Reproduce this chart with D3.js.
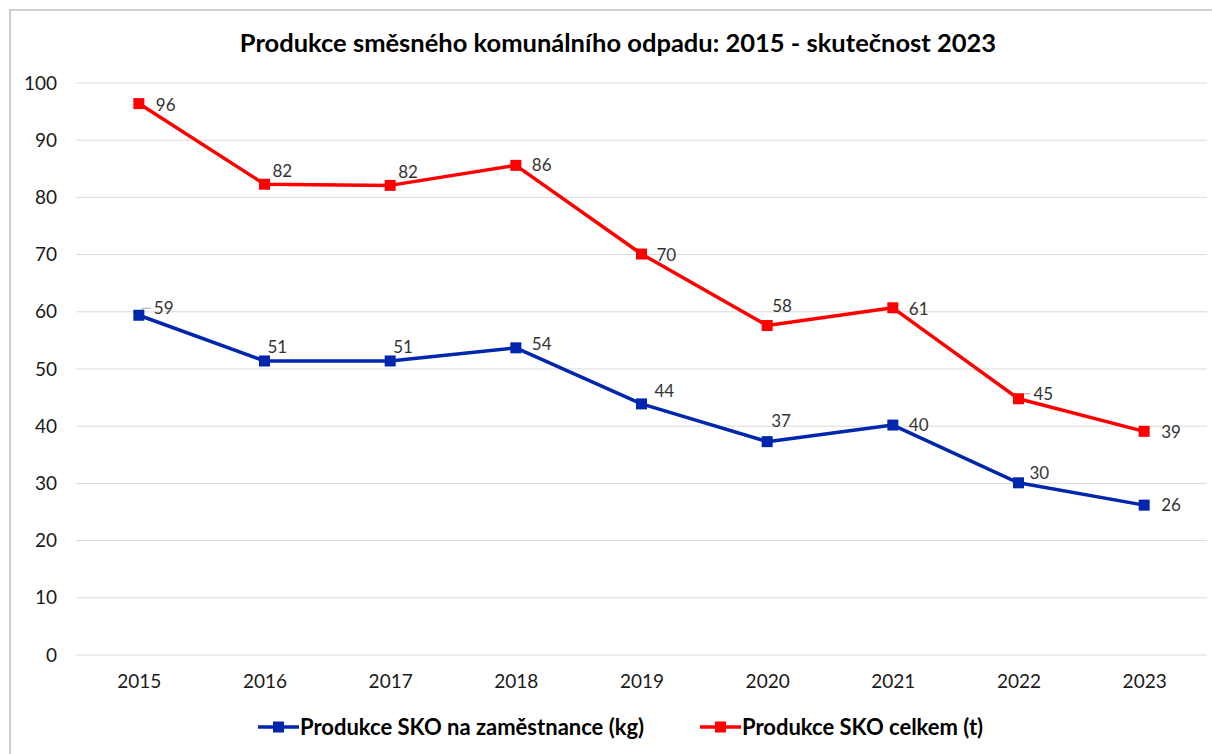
<!DOCTYPE html>
<html>
<head>
<meta charset="utf-8">
<script src="https://cdn.jsdelivr.net/npm/d3@7"></script>
<style>
  body { margin: 0; background: #fff; }
  text { font-family: Lato, "Open Sans", sans-serif; }
</style>
</head>
<body>
<svg width="1212" height="754"></svg>
<script>
// data
var years = ["2015", "2016", "2017", "2018", "2019", "2020", "2021", "2022", "2023"];
var perEmployee = [59.4, 51.4, 51.4, 53.7, 43.9, 37.3, 40.2, 30.1, 26.2];
var totalTons = [96.4, 82.3, 82.1, 85.6, 70.1, 57.6, 60.7, 44.8, 39.1];
var yTicks = [0, 10, 20, 30, 40, 50, 60, 70, 80, 90, 100];
var seriesNames = ["Produkce SKO na zaměstnance (kg)", "Produkce SKO celkem (t)"];

// where each data label sits relative to its marker
var blueLabelOff = [[15,-7],[3,-14],[3,-14],[16,-4],[13,-13],[4,-21],[16,0],[11,-10],[17,0]];
var redLabelOff = [[17,1],[8,-13],[8,-13],[16,0],[15,1],[5,-19],[16,1],[15,-5],[17,1]];
// labels that got a small leader line
var blueLeader = [0];
var redLeader = [7];

var svg = d3.select("svg");
var width = +svg.attr("width"),
    height = +svg.attr("height");

var plotL = 76, plotR = 1207, plotT = 83, plotB = 655;

svg.append("rect")
  .attr("x", 10).attr("y", 10)
  .attr("width", 1230).attr("height", 760)
  .attr("fill", "#fff")
  .attr("stroke", "#bfbfbf")
  .attr("stroke-width", 1.5);

var x = d3.scalePoint().domain(years).range([plotL, plotR]).padding(0.5);
var y = d3.scaleLinear().domain([0, 100]).range([plotB, plotT]);

// grid
svg.append("g")
  .selectAll("line")
  .data(yTicks)
  .enter().append("line")
  .attr("x1", plotL).attr("x2", plotR)
  .attr("y1", function(d) { return y(d); })
  .attr("y2", function(d) { return y(d); })
  .attr("stroke", "#d9d9d9")
  .attr("stroke-width", 1);

// y axis labels
var yAxis = svg.append("g")
  .attr("transform", "translate(" + 57 + ",0)")
  .call(d3.axisLeft(y).tickValues(yTicks).tickSize(0).tickPadding(0));
yAxis.select(".domain").remove();
yAxis.selectAll("text")
  .style("font-size", "19px")
  .style("fill", "#1a1a1a");

// x axis labels
var xAxis = svg.append("g")
  .attr("transform", "translate(0," + plotB + ")")
  .call(d3.axisBottom(x).tickSize(0).tickPadding(20));
xAxis.select(".domain").remove();
xAxis.selectAll("text")
  .style("font-size", "19px")
  .style("fill", "#1a1a1a");

// title
svg.append("text")
  .attr("x", 618).attr("y", 52)
  .attr("text-anchor", "middle")
  .style("font-size", "25.5px")
  .style("font-weight", "bold")
  .style("fill", "#000")
  .text("Produkce směsného komunálního odpadu: 2015 - skutečnost 2023");

var line = d3.line()
  .x(function(d, i) { return x(years[i]); })
  .y(function(d) { return y(d); });

function drawSeries(values, color, offs, leaders) {
  var g = svg.append("g");
  // leader lines first so markers sit on top
  g.selectAll("path.leader")
    .data(leaders)
    .enter().append("path")
    .attr("class", "leader")
    .attr("d", function(i) {
      var cx = x(years[i]), cy = y(values[i]);
      var ly = cy + offs[i][1];
      return "M" + (cx + 1) + "," + (cy - 2) + "L" + (cx + 4) + "," + ly + "L" + (cx + offs[i][0] - 3) + "," + ly;
    })
    .attr("fill", "none")
    .attr("stroke", "#a6a6a6")
    .attr("stroke-width", 1);
  g.append("path")
    .datum(values)
    .attr("d", line)
    .attr("fill", "none")
    .attr("stroke", color)
    .attr("stroke-width", 3.5)
    .attr("stroke-linejoin", "round");
  g.selectAll("rect")
    .data(values)
    .enter().append("rect")
    .attr("x", function(d, i) { return x(years[i]) - 5.5; })
    .attr("y", function(d) { return y(d) - 5.5; })
    .attr("width", 11).attr("height", 11)
    .attr("fill", color);
  g.selectAll("text")
    .data(values)
    .enter().append("text")
    .attr("x", function(d, i) { return x(years[i]) + offs[i][0]; })
    .attr("y", function(d, i) { return y(d) + offs[i][1]; })
    .attr("dy", "0.35em")
    .style("font-size", "17px")
    .style("fill", "#333")
    .text(function(d) { return Math.round(d); });
}

drawSeries(perEmployee, "#0026ad", blueLabelOff, blueLeader);
drawSeries(totalTons, "#ff0000", redLabelOff, redLeader);

// legend
var legendItems = [
  { name: seriesNames[0], color: "#0026ad", x: 258 },
  { name: seriesNames[1], color: "#ff0000", x: 700 }
];
var lg = svg.append("g").selectAll("g")
  .data(legendItems)
  .enter().append("g")
  .attr("transform", function(d) { return "translate(" + d.x + ",727)"; });
lg.append("line")
  .attr("x1", 0).attr("x2", 41)
  .attr("stroke", function(d) { return d.color; })
  .attr("stroke-width", 3.5);
lg.append("rect")
  .attr("x", 15).attr("y", -5.5)
  .attr("width", 11).attr("height", 11)
  .attr("fill", function(d) { return d.color; });
lg.append("text")
  .attr("x", 42).attr("dy", "0.35em")
  .style("font-size", "22px")
  .style("font-weight", "bold")
  .style("fill", "#000")
  .text(function(d) { return d.name; });
</script>
</body>
</html>
